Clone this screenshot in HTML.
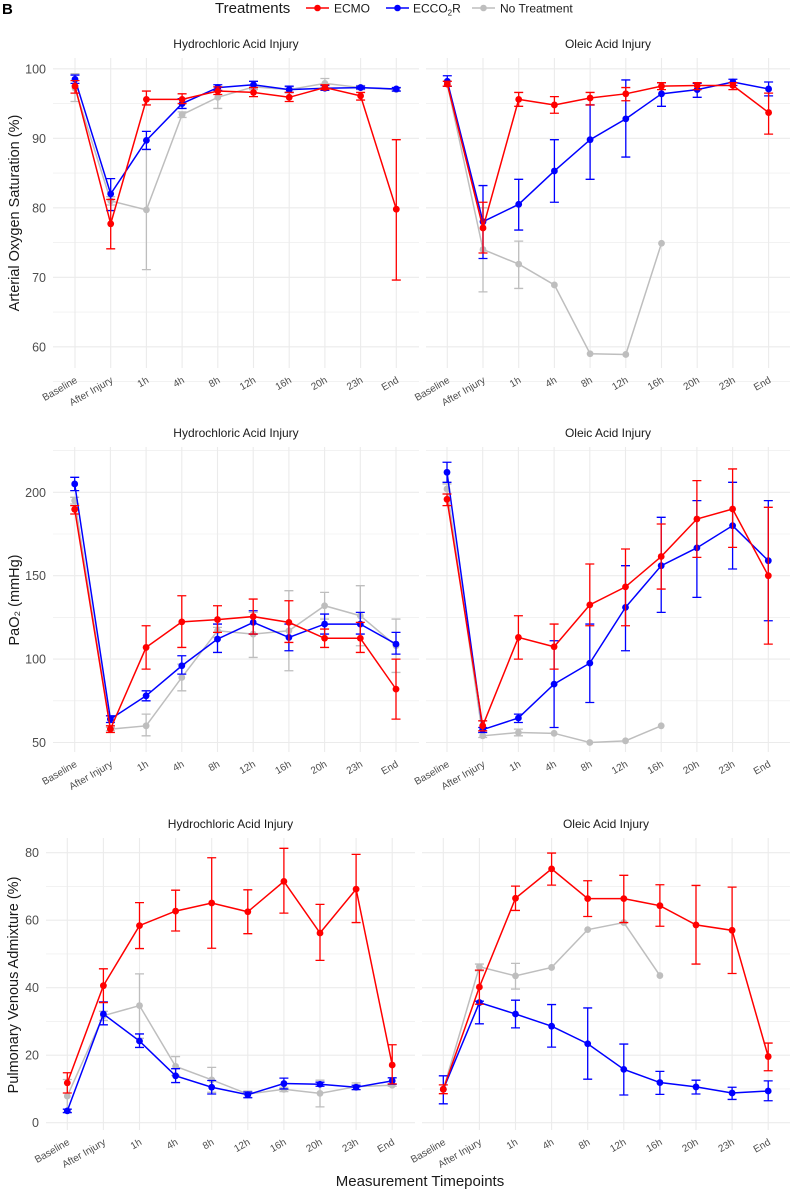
<!DOCTYPE html>
<html><head><meta charset="utf-8"><style>
html,body{margin:0;padding:0;background:#fff;}
svg{display:block;font-family:"Liberation Sans",sans-serif;}
</style></head><body>
<svg id="chart" width="791" height="1192" viewBox="0 0 791 1192" xmlns="http://www.w3.org/2000/svg">
<text x="2" y="14" font-size="15" font-weight="bold" fill="#000">B</text>
<g>
<text x="215" y="13" font-size="15" fill="#1a1a1a">Treatments</text>
<g><line x1="306" y1="8" x2="329" y2="8" stroke="#ff0000" stroke-width="1.5"/><circle cx="317.5" cy="8" r="3.3" fill="#ff0000"/><text x="334" y="12.5" font-size="12" fill="#1a1a1a">ECMO</text></g>
<g><line x1="386" y1="8" x2="409" y2="8" stroke="#0000ff" stroke-width="1.5"/><circle cx="397.5" cy="8" r="3.3" fill="#0000ff"/><text x="413" y="12.5" font-size="12" fill="#1a1a1a">ECCO<tspan font-size="8" dy="3">2</tspan><tspan dy="-3">R</tspan></text></g>
<g><line x1="472" y1="8" x2="495" y2="8" stroke="#bebebe" stroke-width="1.5"/><circle cx="483.5" cy="8" r="3.3" fill="#bebebe"/><text x="500" y="12.5" font-size="12" fill="#1a1a1a">No Treatment</text></g>
</g>
<text x="420" y="1186" font-size="15" fill="#1a1a1a" text-anchor="middle">Measurement Timepoints</text>
</svg>
<script>
const categories = ["Baseline","After Injury","1h","4h","8h","12h","16h","20h","23h","End"];
const series = ["No Treatment","ECCO2R","ECMO"];
// SaO2 HCl
const sao2HclEcmo = [97.5,77.7,95.6,95.6,96.8,96.6,95.9,97.3,96.1,79.8];
const sao2HclEcmoLo = [96.5,74.1,94.8,95.0,96.3,96.0,95.3,97.0,95.5,69.6];
const sao2HclEcmoHi = [98.3,81.2,96.8,96.4,97.4,97.3,96.6,97.7,96.6,89.8];
const sao2HclEcco = [98.5,82.0,89.7,95.0,97.3,97.7,97.0,97.2,97.3,97.1];
const sao2HclEccoLo = [97.9,79.6,88.4,94.3,96.9,97.3,96.6,96.9,97.1,96.8];
const sao2HclEccoHi = [99.1,84.2,91.0,95.7,97.7,98.2,97.5,97.6,97.5,97.3];
const sao2HclNone = [97.2,81.0,79.7,93.4,95.9,97.4,97.0,97.9,97.3,97.0];
const sao2HclNoneLo = [95.3,80.4,71.1,93.0,94.3,97.0,96.6,97.3,97.0,96.8];
const sao2HclNoneHi = [99.3,81.6,88.4,93.8,97.4,97.6,97.4,98.6,97.6,97.2];
// SaO2 Oleic
const sao2OaEcmo = [97.8,77.1,95.6,94.8,95.8,96.4,97.5,97.6,97.6,93.7];
const sao2OaEcmoLo = [97.5,73.5,94.6,93.6,94.8,95.4,97.0,97.0,97.0,90.6];
const sao2OaEcmoHi = [98.2,80.8,96.6,96.0,96.6,97.3,98.0,98.0,98.0,96.5];
const sao2OaEcco = [98.2,78.0,80.5,85.3,89.8,92.8,96.4,97.0,98.1,97.1];
const sao2OaEccoLo = [97.5,72.7,76.8,80.8,84.1,87.3,94.6,95.9,97.6,96.1];
const sao2OaEccoHi = [99.0,83.2,84.1,89.8,94.8,98.4,98.0,97.9,98.5,98.1];
const sao2OaNone = [97.8,74.0,71.9,68.9,59.0,58.9,74.9,null,null,null];
const sao2OaNoneLo = [97.5,67.9,68.4,null,null,null,null,null,null,null];
const sao2OaNoneHi = [98.2,80.0,75.2,null,null,null,null,null,null,null];
// PaO2 HCl
const pao2HclEcmo = [189.8,58,107,122.3,123.7,125.5,122,112.5,112.5,82];
const pao2HclEcmoLo = [187,56,94,107,116,115,110,107,104,64];
const pao2HclEcmoHi = [192,60,120,138,132,136,135,118,122,100];
const pao2HclEcco = [205,64,78,96,112,122,113,121,121,109];
const pao2HclEccoLo = [201,62,75,91,104,115,105,115,115,103];
const pao2HclEccoHi = [209,66,81,102,121,129,121,127,128,116];
const pao2HclNone = [195,58,60,89,117,115,117,132,126,108];
const pao2HclNoneLo = [193,57,54,81,113,101,93,124,108,92];
const pao2HclNoneHi = [197,59,67,97,119,128,141,140,144,124];
// PaO2 Oleic
const pao2OaEcmo = [195.8,60,113,107.4,132.5,143.3,161.5,184,190,150];
const pao2OaEcmoLo = [192,57,100,94,120,120,142,161,167,109];
const pao2OaEcmoHi = [199,63,126,121,157,166,181,207,214,191];
const pao2OaEcco = [212,57.7,64.7,85,97.6,131,156,166.7,180,159];
const pao2OaEccoLo = [206,56,62,59,74,105,128,137,154,123];
const pao2OaEccoHi = [218,59,67,111,121,156,185,195,206,195];
const pao2OaNone = [202,54,56,55.5,50,51,60,null,null,null];
const pao2OaNoneLo = [199,53,54,null,null,null,null,null,null,null];
const pao2OaNoneHi = [205,56,58,null,null,null,null,null,null,null];
// Venous admixture HCl
const qsHclEcmo = [11.8,40.6,58.4,62.7,65.1,62.5,71.5,56.2,69.2,17.1];
const qsHclEcmoLo = [8.8,35.6,51.6,56.8,51.7,56,62.1,48.1,59.3,11.5];
const qsHclEcmoHi = [14.8,45.6,65.2,68.9,78.5,69,81.3,64.7,79.5,23.1];
const qsHclEcco = [3.5,32.2,24.2,13.9,10.5,8.3,11.6,11.4,10.5,12.4];
const qsHclEccoLo = [3,29,22.3,11.9,8.5,7.4,10,10.8,9.8,11.4];
const qsHclEccoHi = [4,35.8,26.3,16,12.5,9.1,13.2,12,11.1,13.3];
const qsHclNone = [7.9,31.7,34.7,16.7,12.7,8.5,9.9,8.7,10.7,11.1];
const qsHclNoneLo = [3,30.3,25,14,9,7.5,9.2,4.7,9.8,10.8];
const qsHclNoneHi = [12.8,33,44.1,19.6,16.4,9.4,10.5,12.6,11.8,11.4];
// Venous admixture Oleic
const qsOaEcmo = [9.9,40.2,66.5,75.2,66.4,66.4,64.3,58.6,57,19.6];
const qsOaEcmoLo = [8.6,35.1,62.9,70.4,61.1,59.3,58.2,47,44.2,15.4];
const qsOaEcmoHi = [11.2,45.2,70.1,79.9,71.7,73.3,70.5,70.3,69.8,23.6];
const qsOaEcco = [9.9,35.6,32.2,28.6,23.4,15.8,11.9,10.6,8.8,9.4];
const qsOaEccoLo = [5.6,29.3,28.1,22.4,12.9,8.2,8.4,8.5,6.9,6.5];
const qsOaEccoHi = [13.9,36,36.3,35,34,23.3,15.2,12.6,10.5,12.4];
const qsOaNone = [9.9,46.2,43.5,46,57.2,59.3,43.6,null,null,null];
const qsOaNoneLo = [null,45,39.6,null,null,null,null,null,null,null];
const qsOaNoneHi = [null,47,47.2,null,null,null,null,null,null,null];
const sao2Ticks = [60,70,80,90,100];
const pao2Ticks = [50,100,150,200];
const qsTicks = [0,20,40,60,80];

const NS = "http://www.w3.org/2000/svg";
const svg = document.getElementById("chart");
const COLORS = ["#bebebe","#0000ff","#ff0000"];
function mk(tag, attrs, parent){
  const e = document.createElementNS(NS, tag);
  for (const k in attrs) e.setAttribute(k, attrs[k]);
  (parent||svg).appendChild(e); return e;
}
function panel(o){
  const g = mk("g", {});
  
  
  const y = v => o.yRef - (v - o.vRef) * o.ppu;
  const x = i => o.x0 + i * o.dx;
  // minor grid
  for (let v = o.minorStart; v <= o.vMax; v += o.minorStep) {
    const l = mk("line", {x1:o.left, x2:o.right, y1:y(v), y2:y(v), stroke:"#ebebeb", "stroke-width":0.6}, g);
    
    
  }
  o.ticks.forEach(t => {
    const l = mk("line", {x1:o.left, x2:o.right, y1:y(t), y2:y(t), stroke:"#ebebeb", "stroke-width":1.1}, g);
    
    
    if (o.showY) {
      const tx = mk("text", {x:o.labelX, y:y(t)+4.5, "font-size":12.5, fill:"#4d4d4d", "text-anchor":"end"}, g);
      tx.textContent = t;
      
      
    }
  });
  categories.forEach((c, i) => {
    const l = mk("line", {x1:x(i), x2:x(i), y1:o.top, y2:o.bottom, stroke:"#ebebeb", "stroke-width":1.1}, g);
    
    
    const ax = x(i) + 3, ay = o.bottom + 14;
    const tx = mk("text", {x:ax, y:ay, "font-size":10, fill:"#4d4d4d", "text-anchor":"end", transform:`rotate(-30 ${ax} ${ay})`}, g);
    tx.textContent = c;
    
    
  });
  const st = mk("text", {x:(o.left+o.right)/2, y:o.top - 10, "font-size":12, fill:"#1a1a1a", "text-anchor":"middle"}, g);
  st.textContent = o.title;
  
  
  o.data.forEach((d, s) => {
    const col = COLORS[s];
    const sg = mk("g", {}, g);
    
    
    // error bars
    d.v.forEach((v, i) => {
      if (d.lo[i] == null || d.hi[i] == null) return;
      const eb = mk("path", {d:`M${x(i)-4.5},${y(d.lo[i])}H${x(i)+4.5}M${x(i)},${y(d.lo[i])}V${y(d.hi[i])}M${x(i)-4.5},${y(d.hi[i])}H${x(i)+4.5}`, stroke:col, "stroke-width":1.3, fill:"none"}, sg);
      
      
    });
    let p = "";
    d.v.forEach((v, i) => { if (v != null) p += (p ? "L" : "M") + x(i) + "," + y(v); });
    const ln = mk("path", {d:p, stroke:col, "stroke-width":1.5, fill:"none"}, sg);
    
    
    d.v.forEach((v, i) => {
      if (v == null) return;
      const c = mk("circle", {cx:x(i), cy:y(v), r:3.4, fill:col}, sg);
      
      
    });
  });
}
function ser(a,b,c){return {v:a,lo:b,hi:c};}
// Row 1
const r1 = {yRef:138.3, vRef:90, ppu:6.95, top:58, bottom:368, ticks:sao2Ticks, minorStart:55, minorStep:5, vMax:101, dx:35.7};
panel(Object.assign({}, r1, {name:"panel-sao2-hcl", title:"Hydrochloric Acid Injury", left:53, right:419, x0:75, showY:true, labelX:46,
  data:[ser(sao2HclNone,sao2HclNoneLo,sao2HclNoneHi), ser(sao2HclEcco,sao2HclEccoLo,sao2HclEccoHi), ser(sao2HclEcmo,sao2HclEcmoLo,sao2HclEcmoHi)]}));
panel(Object.assign({}, r1, {name:"panel-sao2-oleic", title:"Oleic Acid Injury", left:426, right:790, x0:447.3, showY:false,
  data:[ser(sao2OaNone,sao2OaNoneLo,sao2OaNoneHi), ser(sao2OaEcco,sao2OaEccoLo,sao2OaEccoHi), ser(sao2OaEcmo,sao2OaEcmoLo,sao2OaEcmoHi)]}));
// Row 2
const r2 = {yRef:492.3, vRef:200, ppu:1.668, top:447, bottom:752, ticks:pao2Ticks, minorStart:75, minorStep:50, vMax:226, dx:35.7};
panel(Object.assign({}, r2, {name:"panel-pao2-hcl", title:"Hydrochloric Acid Injury", left:53, right:419, x0:74.7, showY:true, labelX:46,
  data:[ser(pao2HclNone,pao2HclNoneLo,pao2HclNoneHi), ser(pao2HclEcco,pao2HclEccoLo,pao2HclEccoHi), ser(pao2HclEcmo,pao2HclEcmoLo,pao2HclEcmoHi)]}));
panel(Object.assign({}, r2, {name:"panel-pao2-oleic", title:"Oleic Acid Injury", left:426, right:790, x0:447, showY:false,
  data:[ser(pao2OaNone,pao2OaNoneLo,pao2OaNoneHi), ser(pao2OaEcco,pao2OaEccoLo,pao2OaEccoHi), ser(pao2OaEcmo,pao2OaEcmoLo,pao2OaEcmoHi)]}));
// Row 3
const r3 = {yRef:1122.7, vRef:0, ppu:3.375, top:838, bottom:1130, ticks:qsTicks, minorStart:10, minorStep:20, vMax:85, dx:36.1};
panel(Object.assign({}, r3, {name:"panel-admixture-hcl", title:"Hydrochloric Acid Injury", left:46, right:415, x0:67.3, showY:true, labelX:39,
  data:[ser(qsHclNone,qsHclNoneLo,qsHclNoneHi), ser(qsHclEcco,qsHclEccoLo,qsHclEccoHi), ser(qsHclEcmo,qsHclEcmoLo,qsHclEcmoHi)]}));
panel(Object.assign({}, r3, {name:"panel-admixture-oleic", title:"Oleic Acid Injury", left:422, right:790, x0:443.3, showY:false,
  data:[ser(qsOaNone,qsOaNoneLo,qsOaNoneHi), ser(qsOaEcco,qsOaEccoLo,qsOaEccoHi), ser(qsOaEcmo,qsOaEcmoLo,qsOaEcmoHi)]}));
// Y titles
[["Arterial Oxygen Saturation (%)",14,213,"y-axis-title-sao2"],["PaO₂ (mmHg)",14,600,"y-axis-title-pao2"],["Pulmonary Venous Admixture (%)",13,985,"y-axis-title-admixture"]].forEach(a=>{
  const t = mk("text", {x:a[1], y:a[2], "font-size":14.5, fill:"#1a1a1a", "text-anchor":"middle", transform:`rotate(-90 ${a[1]} ${a[2]})`, dy:"0.35em"});
  t.textContent = a[0];
  
  
});
</script>
</body></html>
